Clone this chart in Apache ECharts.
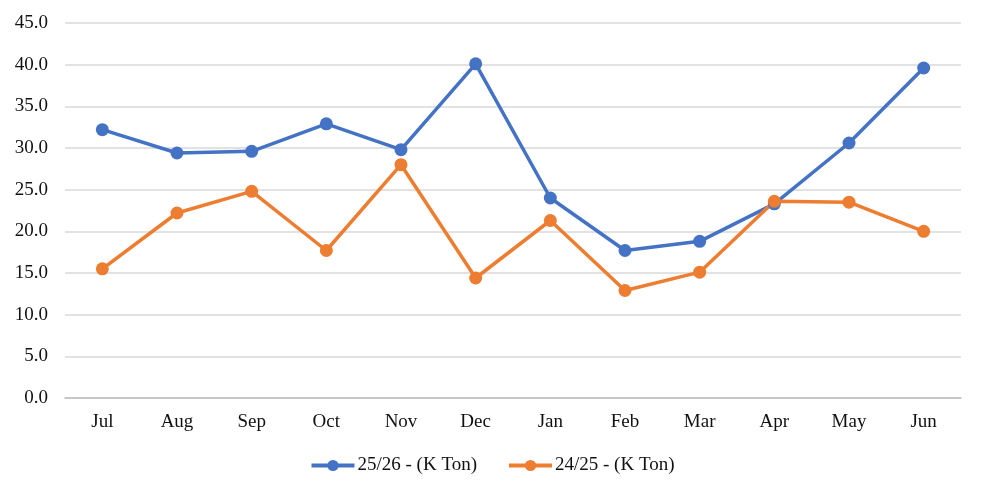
<!DOCTYPE html>
<html>
<head>
<meta charset="utf-8">
<script src="https://cdn.jsdelivr.net/npm/echarts@6/dist/echarts.min.js"></script>
<style>
  html, body { margin: 0; padding: 0; background: #fff; }
  #main { width: 984px; height: 492px; }
</style>
</head>
<body>
<div id="main"></div>
<script>
var months = ['Jul', 'Aug', 'Sep', 'Oct', 'Nov', 'Dec', 'Jan', 'Feb', 'Mar', 'Apr', 'May', 'Jun'];
var seriesNames = ['25/26 - (K Ton)', '24/25 - (K Ton)'];
var season2526 = [32.2, 29.4, 29.6, 32.9, 29.8, 40.1, 24.0, 17.7, 18.8, 23.3, 30.6, 39.6];
var season2425 = [15.5, 22.2, 24.8, 17.7, 28.0, 14.4, 21.3, 12.9, 15.1, 23.6, 23.5, 20.0];

window.addEventListener('load', function () {
    var myChart = echarts.init(document.getElementById('main'));
    var font = '"Liberation Serif", "Times New Roman", serif';
    var option = {
        backgroundColor: '#fff',
        animation: false,
        color: ['#4472C4', '#ED7D31'],
        textStyle: { fontFamily: font },
        grid: { left: 65, right: 23, top: 23, bottom: 94 },
        legend: {
            top: 451,
            left: 'center',
            itemWidth: 43,
            itemHeight: 14,
            itemGap: 30,
            lineStyle: { width: 4 },
            textStyle: { fontFamily: font, fontSize: 19, color: '#111', padding: [0, 0, 0, -2] },
            data: seriesNames
        },
        xAxis: {
            type: 'category',
            data: months,
            axisLine: { lineStyle: { color: '#bfbfbf', width: 1.5 } },
            axisTick: { show: false },
            axisLabel: { fontFamily: font, fontSize: 19, color: '#111', margin: 15 }
        },
        yAxis: {
            type: 'value',
            min: 0,
            max: 45,
            interval: 5,
            axisLine: { show: false },
            axisTick: { show: false },
            splitLine: { lineStyle: { color: '#d9d9d9', width: 1.5 } },
            axisLabel: {
                fontFamily: font, fontSize: 19, color: '#111', margin: 17,
                formatter: function (v) { return v.toFixed(1); }
            }
        },
        series: [
            {
                name: seriesNames[0],
                type: 'line',
                data: season2526,
                symbol: 'circle',
                symbolSize: 13,
                lineStyle: { width: 3.5 }
            },
            {
                name: seriesNames[1],
                type: 'line',
                data: season2425,
                symbol: 'circle',
                symbolSize: 13,
                lineStyle: { width: 3.5 }
            }
        ]
    };
    myChart.setOption(option);
});
</script>
</body>
</html>
